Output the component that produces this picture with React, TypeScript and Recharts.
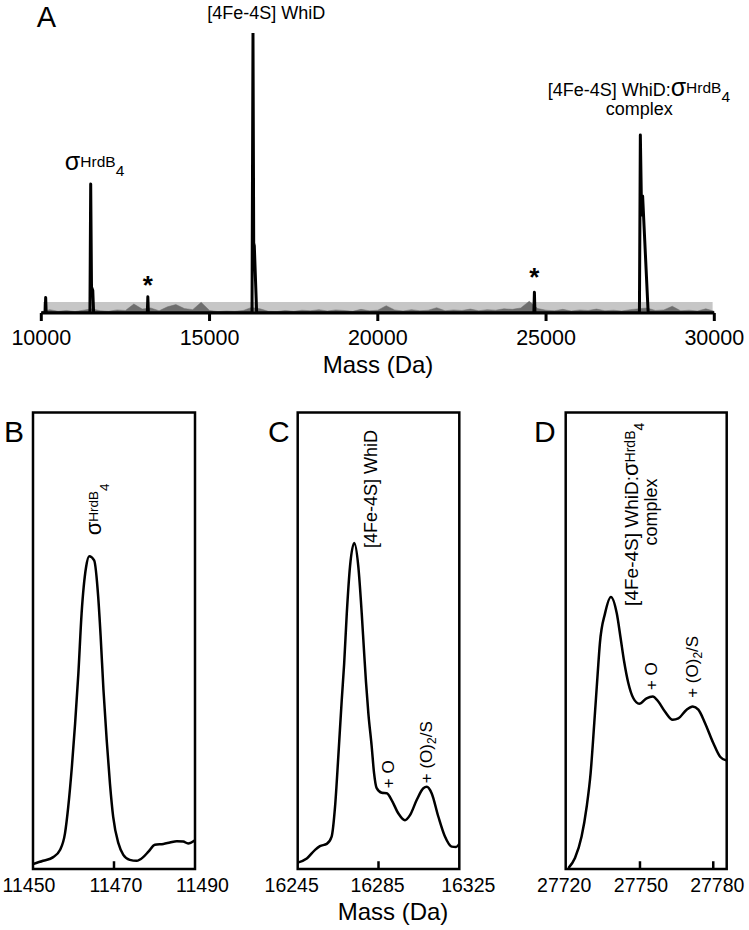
import type { ReactNode } from 'react'
import {
  Area,
  ComposedChart,
  Line,
  ReferenceArea,
  ReferenceDot,
  ReferenceLine,
  XAxis,
  YAxis,
} from 'recharts'

const FONT = '"Liberation Sans", Arial, Helvetica, sans-serif'

// A: full deconvoluted spectrum, 10-30 kDa
const fullTicks = [10000, 15000, 20000, 25000, 30000]
const peakMass = [10000, 10115, 10130, 10145, 11445, 11468, 11492, 11530, 11555, 13150, 13166, 13182, 16262, 16291, 16312, 16330, 16400, 24638, 24654, 24670, 27775, 27802, 27840, 27870, 28035, 30000]
const peakIntensity = [0, 0, 5.5, 0, 0, 46.1, 9.3, 8, 0, 0, 5.8, 0, 0, 100, 25, 24, 0, 0, 7.4, 0, 0, 63.6, 35, 41.8, 0, 0]
const noiseMass = [10000, 10250, 10500, 10750, 11000, 11250, 11500, 11750, 12000, 12250, 12500, 12750, 13000, 13250, 13500, 13750, 14000, 14250, 14500, 14750, 15000, 15250, 15500, 15750, 16000, 16250, 16500, 16750, 17000, 17250, 17500, 17750, 18000, 18250, 18500, 18750, 19000, 19250, 19500, 19750, 20000, 20250, 20500, 20750, 21000, 21250, 21500, 21750, 22000, 22250, 22500, 22750, 23000, 23250, 23500, 23750, 24000, 24250, 24500, 24750, 25000, 25250, 25500, 25750, 26000, 26250, 26500, 26750, 27000, 27250, 27500, 27750, 28000, 28250, 28500, 28750, 29000, 29250, 29500, 29750, 30000]
const noiseIntensity = [0.5, 1.2, 0.6, 0.9, 0.5, 1.0, 1.5, 0.8, 0.6, 1.1, 0.9, 3.2, 1.4, 1.8, 0.8, 2.2, 3.0, 1.6, 1.2, 3.8, 0.9, 0.5, 0.7, 0.6, 0.9, 2.0, 1.5, 0.6, 0.5, 0.9, 0.6, 1.0, 0.8, 1.2, 0.7, 1.1, 0.9, 0.6, 1.3, 0.8, 1.0, 2.6, 1.1, 0.7, 1.2, 0.8, 1.0, 1.9, 0.8, 1.1, 0.9, 1.4, 0.8, 1.2, 1.0, 1.5, 1.3, 1.8, 4.2, 1.6, 1.0, 0.8, 1.3, 0.7, 1.1, 0.9, 1.4, 0.8, 1.0, 0.7, 1.2, 1.5, 1.8, 0.9, 1.1, 2.4, 0.8, 1.0, 0.7, 1.5, 0.6]
const bandMass = [10050, 29950]
const bandIntensity = [3.9, 3.9]

// B: sigma HrdB4 zoom
const hrdbTicks = [11450, 11470, 11490]
const hrdbMass = [11450, 11452.5, 11455, 11456.7, 11457.9, 11458.7, 11459.6, 11460.4, 11461.2, 11462, 11463.1, 11463.9, 11465.1, 11466.1, 11466.7, 11467.4, 11468.2, 11469, 11469.8, 11471.1, 11472.3, 11473.9, 11475.6, 11477.2, 11478.5, 11480.1, 11482.2, 11483.8, 11485.5, 11487.1, 11488.3, 11490]
const hrdbIntensity = [1.1, 1.8, 2.6, 4.2, 7.8, 13.6, 22.4, 31.9, 42.8, 56, 66.1, 68.5, 67.6, 59.6, 51, 39.2, 28.2, 18.7, 11.4, 5.6, 3.1, 2, 1.8, 2.6, 3.8, 5.3, 5.5, 5.8, 6.1, 6, 5.6, 6.3]

// C: [4Fe-4S] WhiD zoom
const whidTicks = [16245, 16285, 16325]
const whidMass = [16245, 16249.5, 16253.6, 16256, 16259.4, 16261.8, 16263.5, 16265.1, 16266.8, 16268, 16269.3, 16270.9, 16273, 16275, 16276.7, 16277.8, 16278.8, 16280, 16281.6, 16282.8, 16284.1, 16286.6, 16289.1, 16291.5, 16294.8, 16298.1, 16300.6, 16303.9, 16307.2, 16308.9, 16311.3, 16314.6, 16317.9, 16321.2, 16323.4, 16325]
const whidIntensity = [1.4, 2.3, 4.2, 5, 5.5, 7.1, 13.7, 24.6, 37, 45, 56, 66.3, 71.4, 66.3, 56, 48, 41, 34, 27, 21, 17.7, 16.7, 16.6, 15.1, 12.2, 10.7, 11.8, 15.1, 17.7, 18, 16.6, 11.5, 7.1, 4.9, 4.8, 5.5]

// D: complex zoom
const complexTicks = [27720, 27750, 27780]
const complexMass = [27720.7, 27723.4, 27726.1, 27728.2, 27729.8, 27731.3, 27732.7, 27733.6, 27735.7, 27738.1, 27740.5, 27742.1, 27743.5, 27745.2, 27747.3, 27749.7, 27752.7, 27755.2, 27757.5, 27760.2, 27763.4, 27765.7, 27769.1, 27771.6, 27773.9, 27776.6, 27780, 27782.8, 27785.3]
const complexIntensity = [0.2, 2.4, 7.1, 13.7, 21, 32, 42.9, 49.5, 56, 59.6, 56, 50.5, 45.5, 40.8, 37.4, 36.2, 37.4, 37.8, 36.7, 34.5, 32.7, 33, 34.9, 35.6, 34.9, 32, 27.6, 24.6, 23.8]

const zip = (xs: number[], ys: number[]) => xs.map((m, i) => ({ m, v: ys[i] }))

// annotation anchored at a data point; draw gets the pixel position
function note(key: string, x: number, y: number, draw: (cx: number, cy: number) => ReactNode) {
  return (
    <ReferenceDot
      key={key}
      x={x}
      y={y}
      r={0}
      fill="none"
      stroke="none"
      ifOverflow="visible"
      label={{
        content: (p: any) => {
          const vb = p.viewBox || {}
          return <g>{draw((vb.x ?? 0) + (vb.width ?? 0) / 2, (vb.y ?? 0) + (vb.height ?? 0) / 2)}</g>
        },
      }}
    />
  )
}

function sigma(big: number, small: number, up: number, down: number) {
  return [
    <tspan key="s" fontSize={big}>σ</tspan>,
    <tspan key="h" fontSize={small} dy={-up}>HrdB</tspan>,
    <tspan key="4" fontSize={small} dy={up + down}>4</tspan>,
  ]
}

function rot(cx: number, cy: number, size: number, children: ReactNode, anchor: 'start' | 'middle' = 'start') {
  return (
    <text x={cx} y={cy} transform={`rotate(-90 ${cx} ${cy})`} fontSize={size} fontFamily={FONT} fill="#000" textAnchor={anchor}>
      {children}
    </text>
  )
}

function makeTick(ticks: number[], shifts: number[], size: number) {
  return (props: any) => {
    const { x, y, payload } = props
    const i = ticks.indexOf(payload.value)
    return (
      <text x={x + (shifts[i] || 0)} y={y} dy="0.71em" textAnchor="middle" fontSize={size} fontFamily={FONT} fill="#000">
        {payload.value}
      </text>
    )
  }
}

const oxSpans = [
  <tspan key="a">+ (O)</tspan>,
  <tspan key="b" fontSize={12} dy={4}>2</tspan>,
  <tspan key="c" dy={-4}>/S</tspan>,
]

interface ZoomProps {
  left: number
  width: number
  marginLeft: number
  marginRight: number
  domain: [number, number]
  ticks: number[]
  shifts: number[]
  inner: number[]
  mass: number[]
  intensity: number[]
  notes: ReactNode[]
}

function ZoomPanel({ left, width, marginLeft, marginRight, domain, ticks, shifts, inner, mass, intensity, notes }: ZoomProps) {
  return (
    <div style={{ position: 'absolute', left, top: 380 }}>
      <ComposedChart width={width} height={550} data={zip(mass, intensity)} margin={{ top: 32.5, right: marginRight, left: marginLeft, bottom: 0 }}>
        <XAxis
          dataKey="m"
          type="number"
          domain={domain}
          ticks={ticks}
          allowDataOverflow
          axisLine={false}
          tickLine={false}
          tickSize={0}
          tickMargin={9.5}
          height={61}
          interval={0}
          tick={makeTick(ticks, shifts, 19.5)}
        />
        <YAxis hide domain={[0, 100]} allowDataOverflow />
        <ReferenceArea x1={domain[0]} x2={domain[1]} y1={0} y2={100} fill="none" fillOpacity={0} stroke="#000" strokeWidth={2.5} ifOverflow="visible" />
        {inner.map((t) => (
          <ReferenceLine key={t} segment={[{ x: t, y: 0 }, { x: t, y: 1.7 }]} stroke="#000" strokeWidth={2.5} ifOverflow="visible" />
        ))}
        <Line dataKey="v" type="monotone" stroke="#000" strokeWidth={2.5} dot={false} activeDot={false} isAnimationActive={false} />
        {notes}
      </ComposedChart>
    </div>
  )
}

export default function App() {
  const peaks = zip(peakMass, peakIntensity)
  const noise = zip(noiseMass, noiseIntensity)
  const band = zip(bandMass, bandIntensity)

  return (
    <div style={{ position: 'absolute', left: 0, top: 0, width: 749, height: 930, background: '#fff', fontFamily: FONT }}>
      <div style={{ position: 'absolute', left: 0, top: 0 }}>
        <ComposedChart width={749} height={380} margin={{ top: 33, right: 34.7, left: 41.3, bottom: 0 }}>
          <XAxis
            dataKey="m"
            type="number"
            domain={[10000, 30000]}
            ticks={fullTicks}
            interval={0}
            allowDataOverflow
            height={67}
            axisLine={{ stroke: '#000', strokeWidth: 3 }}
            tickLine={{ stroke: '#000', strokeWidth: 3 }}
            tickSize={8}
            tickMargin={9}
            tick={makeTick(fullTicks, [0, 0, 0, 0, 0], 21.5)}
          />
          <YAxis hide domain={[0, 100]} allowDataOverflow />
          <Area data={band} dataKey="v" type="linear" fill="#c6c6c6" fillOpacity={1} stroke="none" isAnimationActive={false} activeDot={false} />
          <Area data={noise} dataKey="v" type="linear" fill="#6e6e6e" fillOpacity={1} stroke="#6e6e6e" strokeWidth={0.5} isAnimationActive={false} activeDot={false} />
          <Line data={peaks} dataKey="v" type="linear" stroke="#000" strokeWidth={3} strokeLinejoin="round" dot={false} activeDot={false} isAnimationActive={false} />
          {note('sig', 11583, 51.1, (cx, cy) => (
            <text x={cx} y={cy} textAnchor="middle" fontFamily={FONT} fill="#000">{sigma(25, 15.5, 3, 6)}</text>
          ))}
          {note('whid', 16688, 105, (cx, cy) => (
            <text x={cx} y={cy} textAnchor="middle" fontSize={18} fontFamily={FONT} fill="#000">[4Fe-4S] WhiD</text>
          ))}
          {note('cx1', 27758, 77.5, (cx, cy) => (
            <text x={cx} y={cy} textAnchor="middle" fontSize={18} fontFamily={FONT} fill="#000">
              [4Fe-4S] WhiD:{sigma(25, 15.5, 3, 6)}
            </text>
          ))}
          {note('cx2', 27770, 70.6, (cx, cy) => (
            <text x={cx} y={cy} textAnchor="middle" fontSize={18} fontFamily={FONT} fill="#000">complex</text>
          ))}
          {note('st1', 13166, 6.8, (cx, cy) => (
            <text x={cx} y={cy} textAnchor="middle" fontSize={26} fontWeight="bold" fontFamily={FONT} fill="#000">*</text>
          ))}
          {note('st2', 24654, 9.6, (cx, cy) => (
            <text x={cx} y={cy} textAnchor="middle" fontSize={26} fontWeight="bold" fontFamily={FONT} fill="#000">*</text>
          ))}
        </ComposedChart>
      </div>

      <ZoomPanel
        left={0}
        width={250}
        marginLeft={33}
        marginRight={55}
        domain={[11450, 11490]}
        ticks={hrdbTicks}
        shifts={[-4, 2, 7.5]}
        inner={[11470]}
        mass={hrdbMass}
        intensity={hrdbIntensity}
        notes={[
          note('b1', 11466.8, 73.1, (cx, cy) => rot(cx, cy, 22, sigma(22, 13.5, 3, 8))),
        ]}
      />
      <ZoomPanel
        left={250}
        width={250}
        marginLeft={47.7}
        marginRight={40.7}
        domain={[16245, 16325]}
        ticks={whidTicks}
        shifts={[-6, -1, 9]}
        inner={[16285]}
        mass={whidMass}
        intensity={whidIntensity}
        notes={[
          note('c1', 16284.3, 70.3, (cx, cy) => rot(cx, cy, 18, '[4Fe-4S] WhiD')),
          note('c2', 16292.7, 17.7, (cx, cy) => rot(cx, cy, 17, '+ O')),
          note('c3', 16311.5, 18.8, (cx, cy) => rot(cx, cy, 17, oxSpans)),
        ]}
      />
      <ZoomPanel
        left={500}
        width={249}
        marginLeft={65.7}
        marginRight={22.3}
        domain={[27719.6, 27785.5]}
        ticks={complexTicks}
        shifts={[-2.5, 1, 4]}
        inner={[27750, 27780]}
        mass={complexMass}
        intensity={complexIntensity}
        notes={[
          note('d1', 27749.2, 77.7, (cx, cy) => rot(cx, cy, 19, ['[4Fe-4S] WhiD:', ...sigma(22, 14, 3, 6)], 'middle')),
          note('d2', 27757, 78.2, (cx, cy) => rot(cx, cy, 18, 'complex', 'middle')),
          note('d3', 27757.1, 39.2, (cx, cy) => rot(cx, cy, 17, '+ O')),
          note('d4', 27773.7, 37.5, (cx, cy) => rot(cx, cy, 17, oxSpans)),
        ]}
      />

      <svg width={749} height={930} style={{ position: 'absolute', left: 0, top: 0, pointerEvents: 'none' }}>
        <g fontFamily={FONT} fill="#000">
          <text x={46.5} y={27} fontSize={29} textAnchor="middle">A</text>
          <text x={4} y={442} fontSize={30}>B</text>
          <text x={268} y={442} fontSize={30}>C</text>
          <text x={534} y={442} fontSize={30}>D</text>
          <text x={378} y={373} fontSize={24} textAnchor="middle">Mass (Da)</text>
          <text x={393} y={920} fontSize={24} textAnchor="middle">Mass (Da)</text>
        </g>
      </svg>
    </div>
  )
}
